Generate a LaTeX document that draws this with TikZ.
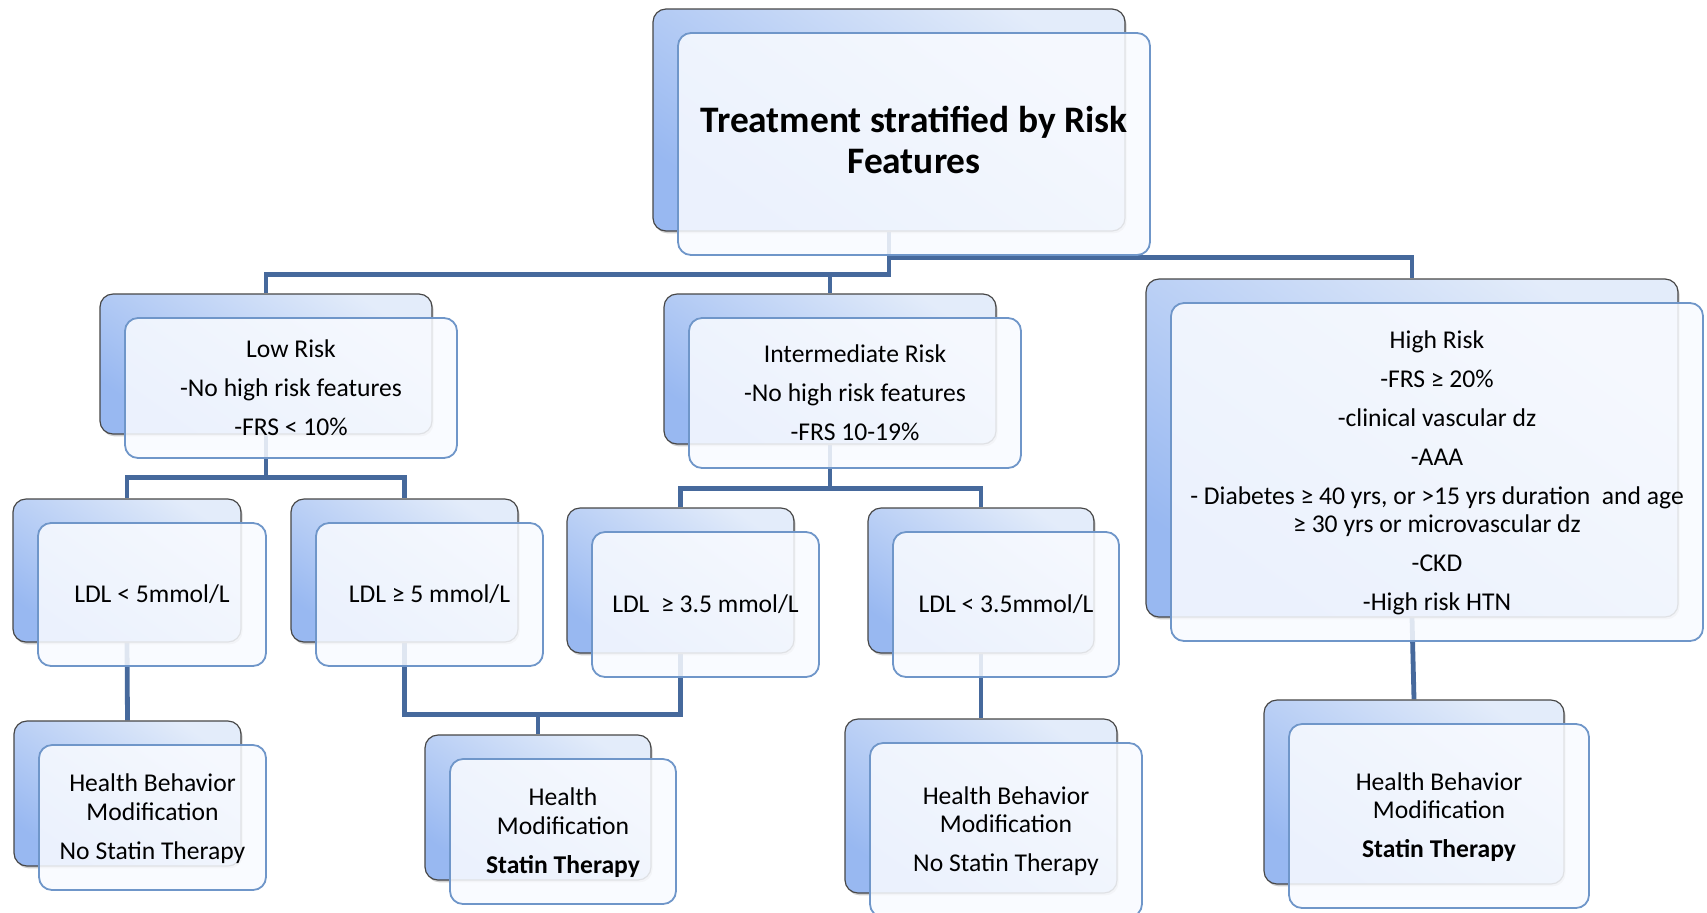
\documentclass[tikz,border=0pt]{standalone}
\usepackage{fontspec}
\setmainfont{Carlito}
\usetikzlibrary{shadows,calc,fit}

\definecolor{linkblue}{HTML}{46699C}
\definecolor{edgeblue}{HTML}{6F96C9}
\definecolor{backtop}{HTML}{E3ECFA}
\definecolor{backbot}{HTML}{98B8F1}
\definecolor{frontfill}{HTML}{F9FBFF}

\pgfdeclarelayer{bg}
\pgfsetlayers{bg,main}

\tikzset{
  backbox/.style={rectangle, rounded corners=6.5pt, draw=black!72, line width=0.6pt,
    top color=backtop, bottom color=backbot, shading angle=-35, inner sep=0pt,
    drop shadow={shadow xshift=0.8pt, shadow yshift=-1.2pt, opacity=0.3, fill=black!60}},
  frontbox/.style={rectangle, rounded corners=6.5pt, draw=edgeblue, line width=0.9pt,
    fill=frontfill, fill opacity=0.86, draw opacity=1, inner sep=0pt},
  paneltext/.style={align=center, inner sep=0pt, font=\fontsize{12.8}{14.2}\selectfont},
  titletext/.style={font=\fontsize{18.7}{20.5}\selectfont\bfseries},
  link/.style={draw=linkblue, line width=2.4pt}
}

% back panel from its corners, front panel shifted down-right, text centred on the front
% #1: text style, #2: name, #3-#6: back corners, #7: vertical text offset, #8: text
\newcommand{\riskpanel}[8][]{%
  \node[backbox, fit={(#3,#4)(#5,#6)}] (#2B) {};
  \node[frontbox, fit={($(#3,#4)+(25,24)$)($(#5,#6)+(25,24)$)}] (#2) {};
  \node[paneltext, #1] (#2T) at ($(#2.center)+(0,#7)$) {#8};
}
\newcommand{\itemgap}{\\[5.3pt]}

\begin{document}
\begin{tikzpicture}[x=0.5pt, y=-0.5pt]
\useasboundingbox (0,0) rectangle (1707,912);

\riskpanel[titletext]{top}{653}{9}{1125}{231}{-4}{Treatment stratified by Risk\\Features}

\riskpanel{low}{100}{294}{432}{434}{0}{Low Risk\itemgap -No high risk features\itemgap -FRS < 10\%}
\riskpanel{mid}{664}{294}{996}{444}{0}{Intermediate Risk\itemgap -No high risk features\itemgap -FRS 10-19\%}
\riskpanel{high}{1146}{279}{1678}{617}{1}{High Risk\itemgap -FRS ≥ 20\%\itemgap -clinical vascular dz\itemgap -AAA\itemgap
  - Diabetes ≥ 40 yrs, or >15 yrs duration\ \ and age\\≥ 30 yrs or microvascular dz\itemgap -CKD\itemgap -High risk HTN}

\riskpanel{ldlA}{13}{499}{241}{642}{0}{LDL < 5mmol/L}
\riskpanel{ldlB}{291}{499}{518}{642}{0}{LDL ≥ 5 mmol/L}
\riskpanel{ldlC}{567}{508}{794}{653}{0}{LDL\ \ ≥ 3.5 mmol/L}
\riskpanel{ldlD}{868}{508}{1094}{653}{0}{LDL < 3.5mmol/L}

\riskpanel{hbmA}{14}{721}{241}{866}{1}{Health Behavior\\Modification\itemgap No Statin Therapy}
\riskpanel{hmB}{425}{735}{651}{880}{1}{Health\\Modification\itemgap \textbf{Statin Therapy}}
\riskpanel{hbmC}{845}{719}{1117}{893}{1}{Health Behavior\\Modification\itemgap No Statin Therapy}
\riskpanel{hbmD}{1264}{700}{1564}{884}{1}{Health Behavior\\Modification\itemgap \textbf{Statin Therapy}}

\begin{pgfonlayer}{bg}
  \fill[white] (0,0) rectangle (1707,912);
  % first level
  \coordinate (j1) at ($(topB.south)+(0,43)$);
  \coordinate (j2) at ($(topB.south)+(0,26)$);
  \draw[link] (topB.south) -- (j1) -| (lowB.north);
  \draw[link] (j1) -| (midB.north);
  \draw[link] (j2) -| (highB.north);
  % low risk branches
  \coordinate (j3) at ($(lowB.south)+(0,43)$);
  \draw[link] (lowB.south) -- (j3);
  \draw[link] (ldlAB.north) |- (j3) -| (ldlBB.north);
  % intermediate risk branches
  \coordinate (j4) at ($(midB.south)+(0,44)$);
  \draw[link] (midB.south) -- (j4);
  \draw[link] (ldlCB.north) |- (j4) -| (ldlDB.north);
  % treatments
  \draw[link] (ldlAB.south) -- (hbmAB.north);
  \coordinate (j5) at ($(ldlBB.south)+(0,72)$);
  \draw[link] (ldlBB.south) -- (j5) -| (ldlCB.south);
  \draw[link] (hmBB.north) -- (hmBB.north |- j5);
  \draw[link] (ldlDB.south) -- (hbmCB.north);
  \draw[link] (highB.south) -- (hbmDB.north);
\end{pgfonlayer}
\end{tikzpicture}
\end{document}
